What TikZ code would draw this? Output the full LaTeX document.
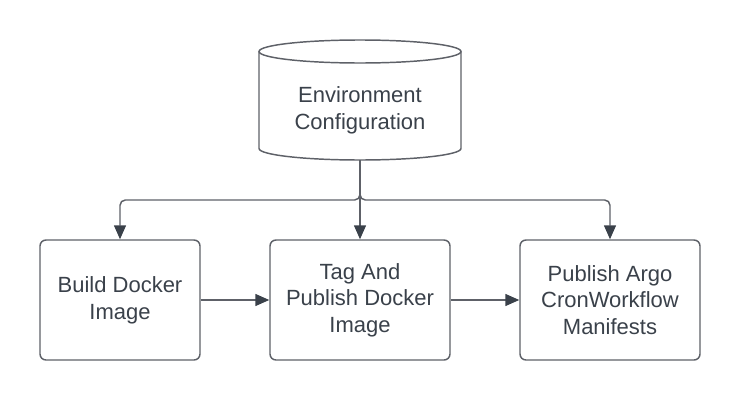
\documentclass[tikz,border=0pt]{standalone}
\usepackage{fontspec}
\setmainfont{Liberation Sans}
\usetikzlibrary{arrows.meta}
\definecolor{strokec}{HTML}{5E6168}
\definecolor{textc}{HTML}{3A414A}
\begin{document}
\begin{tikzpicture}[x=0.75pt,y=-0.75pt,
  txt/.style={align=center,text=textc,font=\fontsize{16.5}{20}\selectfont,inner sep=0pt},
  box/.style={txt,draw=strokec,line width=1.1pt,rounded corners=4.5pt,fill=white,
    minimum width=120pt,minimum height=90pt},
  line/.style={draw=strokec,line width=1.1pt},
  conn/.style={line,-{Triangle[length=10.5pt,width=9pt,color=textc]}}]
\useasboundingbox (0,0) rectangle (740,400);
% cylinder
\draw[line,fill=white] (259,51.5) -- (259,148.5)
  arc[start angle=180,end angle=0,x radius=101,y radius=11.5] -- (461,51.5);
\draw[line,fill=white] (360,51.5) ellipse [x radius=101,y radius=11.5];
\node[txt] (env) at (360,110) {Environment\\Configuration};
\coordinate (envb) at (360,160);
\node[box,minimum width=120pt] (b1) at (120,300) {Build Docker\\Image};
\node[box,minimum width=135pt] (b2) at (360,300) {Tag And\\Publish Docker\\Image};
\node[box,minimum width=135pt] (b3) at (610,300) {Publish Argo\\CronWorkflow\\Manifests};
\coordinate (j) at (360,200);
\draw[conn,rounded corners=4pt] (envb) -- (j) -| (b1.north);
\draw[conn,rounded corners=4pt] (envb) -- (j) -| (b3.north);
\draw[conn] (envb) -- (b2.north);
\draw[conn] (b1.east) -- (b2.west);
\draw[conn] (b2.east) -- (b3.west);
\end{tikzpicture}
\end{document}
